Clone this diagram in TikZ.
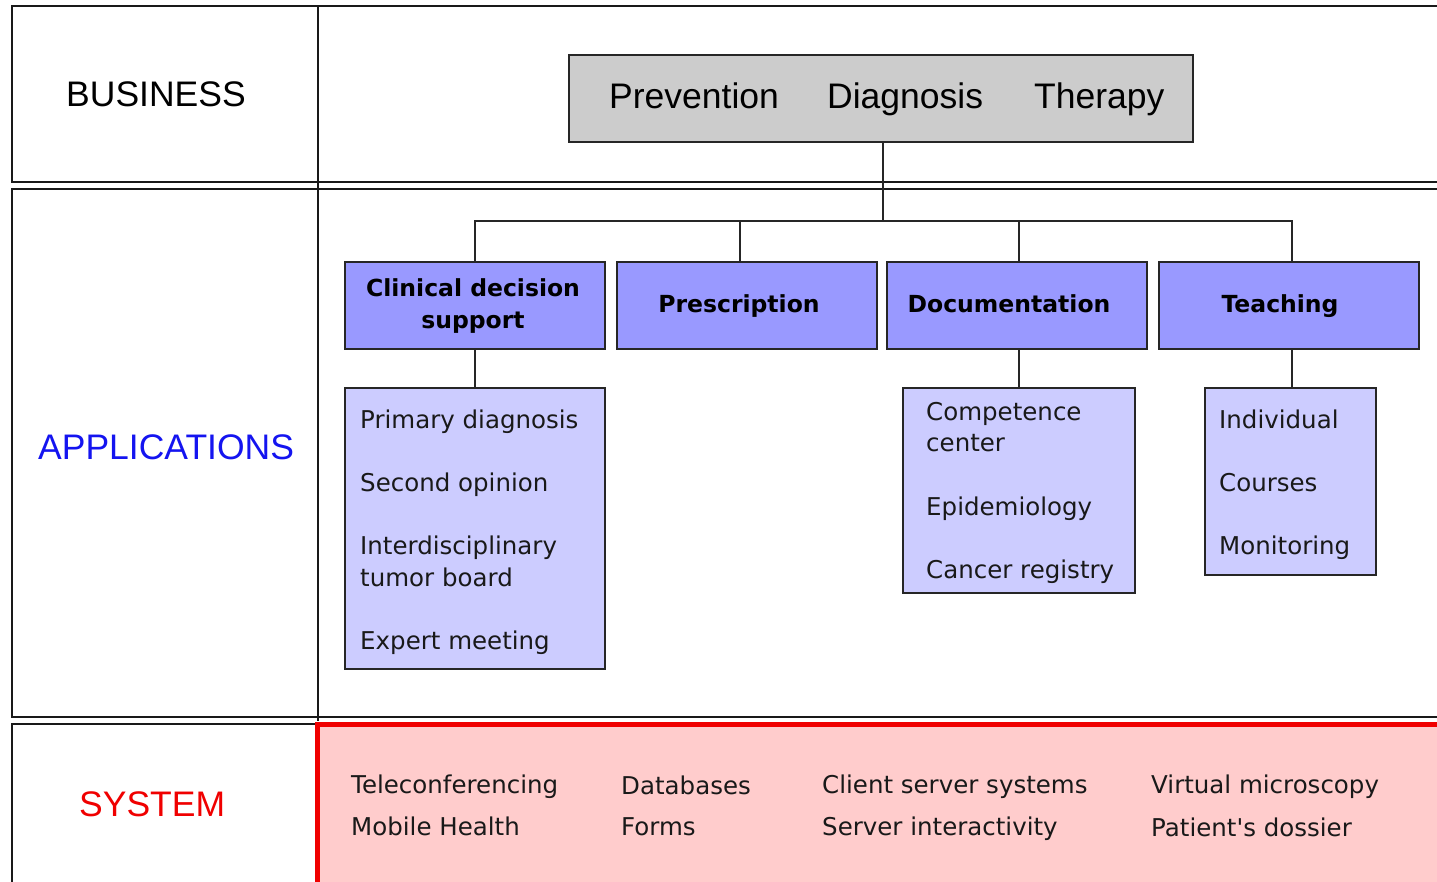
\documentclass[tikz,border=0pt]{standalone}
\usepackage{fontspec}
\setmainfont{Liberation Sans}
\newfontfamily\dv{DejaVu Sans}
\definecolor{hdrfill}{HTML}{9999FF}
\definecolor{subfill}{HTML}{CCCCFF}
\definecolor{greyfill}{HTML}{CCCCCC}
\definecolor{pinkfill}{HTML}{FFCCCC}
\definecolor{sysred}{HTML}{F00000}
\definecolor{apblue}{HTML}{1414F0}
\tikzset{
  frame/.style={line width=1.6pt, draw=black!90},
  conn/.style={line width=1.5pt, draw=black!85},
  boxbase/.style={draw=black!85, line width=1.5pt, inner sep=0pt, text=black},
  greybox/.style={boxbase, fill=greyfill},
  hdrbox/.style={boxbase, fill=hdrfill, minimum width=260pt, minimum height=87pt},
  subbox/.style={boxbase, fill=subfill},
  big/.style={inner sep=0pt, anchor=base west, font=\fontsize{35.5}{42}\selectfont},
  hdrtxt/.style={inner sep=0pt, anchor=base, font=\dv\bfseries\fontsize{23.5}{28}\selectfont},
  itm/.style={inner sep=0pt, anchor=base west, font=\dv\fontsize{24.5}{30}\selectfont, text=black!90},
}
\begin{document}
\begin{tikzpicture}[x=1pt,y=-1pt]
\useasboundingbox (0,0) rectangle (1437,882);
\clip (0,0) rectangle (1437,882);
\fill[white] (0,0) rectangle (1437,882);

% row frames
\draw[frame] (1445,6) -- (12,6) -- (12,182) -- (1445,182);
\draw[frame] (1445,189) -- (12,189) -- (12,717) -- (1445,717);
\draw[frame] (318,724) -- (12,724) -- (12,895);
\draw[frame] (318,6) -- (318,721);

% system box
\draw[line width=5pt, draw=sysred, fill=pinkfill] (317.5,724.5) rectangle (1460,900);

% row titles
\node[big] (tbus) at (66,107) {BUSINESS};
\node[big, text=apblue] (tapp) at (38,459) {APPLICATIONS};
\node[big, text=sysred] (tsys) at (79,816) {SYSTEM};

% business box
\node[greybox, minimum width=624pt, minimum height=87pt] (grey) at (881,98.5) {};
\node[big] (prev) at (609,109) {Prevention};
\node[big] (diag) at (827,109) {Diagnosis};
\node[big] (ther) at (1034,109) {Therapy};

% application headers
\node[hdrbox] (cds) at (475,305.5) {};
\node[hdrbox] (presc) at (747,305.5) {};
\node[hdrbox] (doc) at (1017,305.5) {};
\node[hdrbox] (teach) at (1289,305.5) {};
\node[hdrtxt] (cds1) at (473,297) {Clinical decision};
\node[hdrtxt] (cds2) at (473,329) {support};
\node[hdrtxt] (prt) at (739,313) {Prescription};
\node[hdrtxt] (dot) at (1009,313) {Documentation};
\node[hdrtxt] (tet) at (1280,313) {Teaching};

% sub boxes
\node[subbox, minimum width=260pt, minimum height=281pt] (cdsS) at (475,528.5) {};
\node[subbox, minimum width=232pt, minimum height=205pt] (docS) at (1019,490.5) {};
\node[subbox, minimum width=171pt, minimum height=187pt] (teachS) at (1290.5,481.5) {};

\node[itm] (a1) at (360,428) {Primary diagnosis};
\node[itm] (a2) at (360,491) {Second opinion};
\node[itm] (a3) at (360,554) {Interdisciplinary};
\node[itm] (a4) at (360,586) {tumor board};
\node[itm] (a5) at (360,649) {Expert meeting};

\node[itm] (d1) at (926,420) {Competence};
\node[itm] (d2) at (926,451) {center};
\node[itm] (d3) at (926,515) {Epidemiology};
\node[itm] (d4) at (926,578) {Cancer registry};

\node[itm] (t1) at (1219,428) {Individual};
\node[itm] (t2) at (1219,491) {Courses};
\node[itm] (t3) at (1219,554) {Monitoring};

% connectors
\coordinate (bus) at (883,222);
\draw[conn] (grey.south -| bus) -- (bus);
\draw[conn] (cds.north) -- ++(0,-40) -| ([xshift=3pt]teach.north);
\draw[conn] ([xshift=-7pt]presc.north) -- ++(0,-40);
\draw[conn] ([xshift=2pt]doc.north) -- ++(0,-40);
\draw[conn] (cds.south) -- (cdsS.north);
\draw[conn] ([xshift=2pt]doc.south) -- (docS.north);
\draw[conn] ([xshift=3pt]teach.south) -- ([xshift=1.5pt]teachS.north);

% system items
\node[itm] (s1) at (351,793) {Teleconferencing};
\node[itm] (s2) at (351,835) {Mobile Health};
\node[itm] (s3) at (621,794) {Databases};
\node[itm] (s4) at (621,835) {Forms};
\node[itm] (s5) at (822,793) {Client server systems};
\node[itm] (s6) at (822,835) {Server interactivity};
\node[itm] (s7) at (1151,793) {Virtual microscopy};
\node[itm] (s8) at (1151,836) {Patient's dossier};
\end{tikzpicture}
\end{document}
